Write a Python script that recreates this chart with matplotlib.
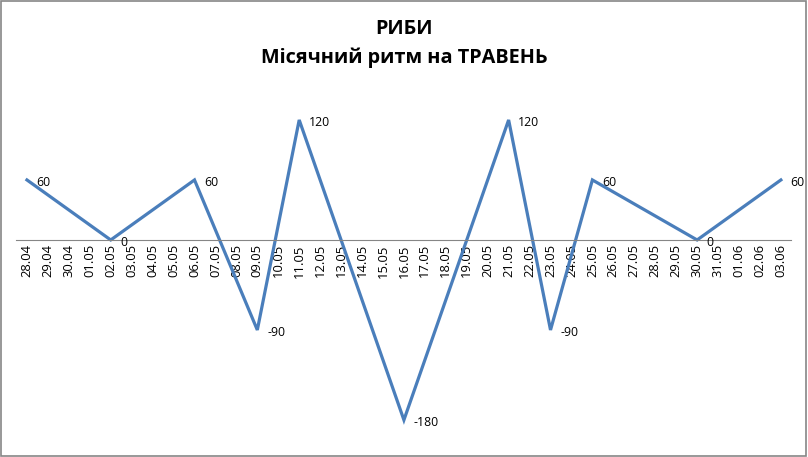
import matplotlib.pyplot as plt
from matplotlib.patches import Rectangle

plt.rcParams['font.family'] = ['Open Sans', 'DejaVu Sans']

# all dates shown on the category axis
dates = ['28.04', '29.04', '30.04'] + ['%02d.05' % d for d in range(1, 32)] + ['01.06', '02.06', '03.06']

# turning points of the rhythm line and their values
point_dates = ['28.04', '02.05', '06.05', '09.05', '11.05', '16.05',
               '21.05', '23.05', '25.05', '30.05', '03.06']
point_values = [60, 0, 60, -90, 120, -180, 120, -90, 60, 0, 60]

title = 'РИБИ\nМісячний ритм на ТРАВЕНЬ'

fig = plt.figure(figsize=(8.08, 4.57), dpi=100)
fig.patches.append(Rectangle((0.0015, 0.003), 0.996, 0.994, transform=fig.transFigure,
                             fill=False, edgecolor='#868686', linewidth=1.2))

ax = fig.add_axes([0.0204, 0.0372, 0.959, 0.766])
ax.spines['bottom'].set_position(('data', 0))
ax.spines['bottom'].set_color('#868686')
for s in ['top', 'right', 'left']:
    ax.spines[s].set_visible(False)

xs = [dates.index(d) for d in point_dates]
ax.plot(xs, point_values, color='#4A7EBB', linewidth=2.3, solid_joinstyle='miter')

for x, v in zip(xs, point_values):
    ax.annotate(str(v), (x, v), xytext=(7, -1.5), textcoords='offset points',
                ha='left', va='center', fontsize=8.8, color='black')

ax.set_xlim(-0.5, len(dates) - 0.5)
ax.set_ylim(-200, 150)
ax.set_xticks(range(len(dates)))
ax.set_xticklabels(dates, rotation=90, fontsize=9.4)
ax.set_yticks([])
ax.tick_params(axis='x', length=0, pad=3)

fig.text(0.5, 0.905, title, ha='center', va='center', fontsize=14.3,
         fontweight='bold', linespacing=1.6)

fig.savefig('out.png', dpi=100)
